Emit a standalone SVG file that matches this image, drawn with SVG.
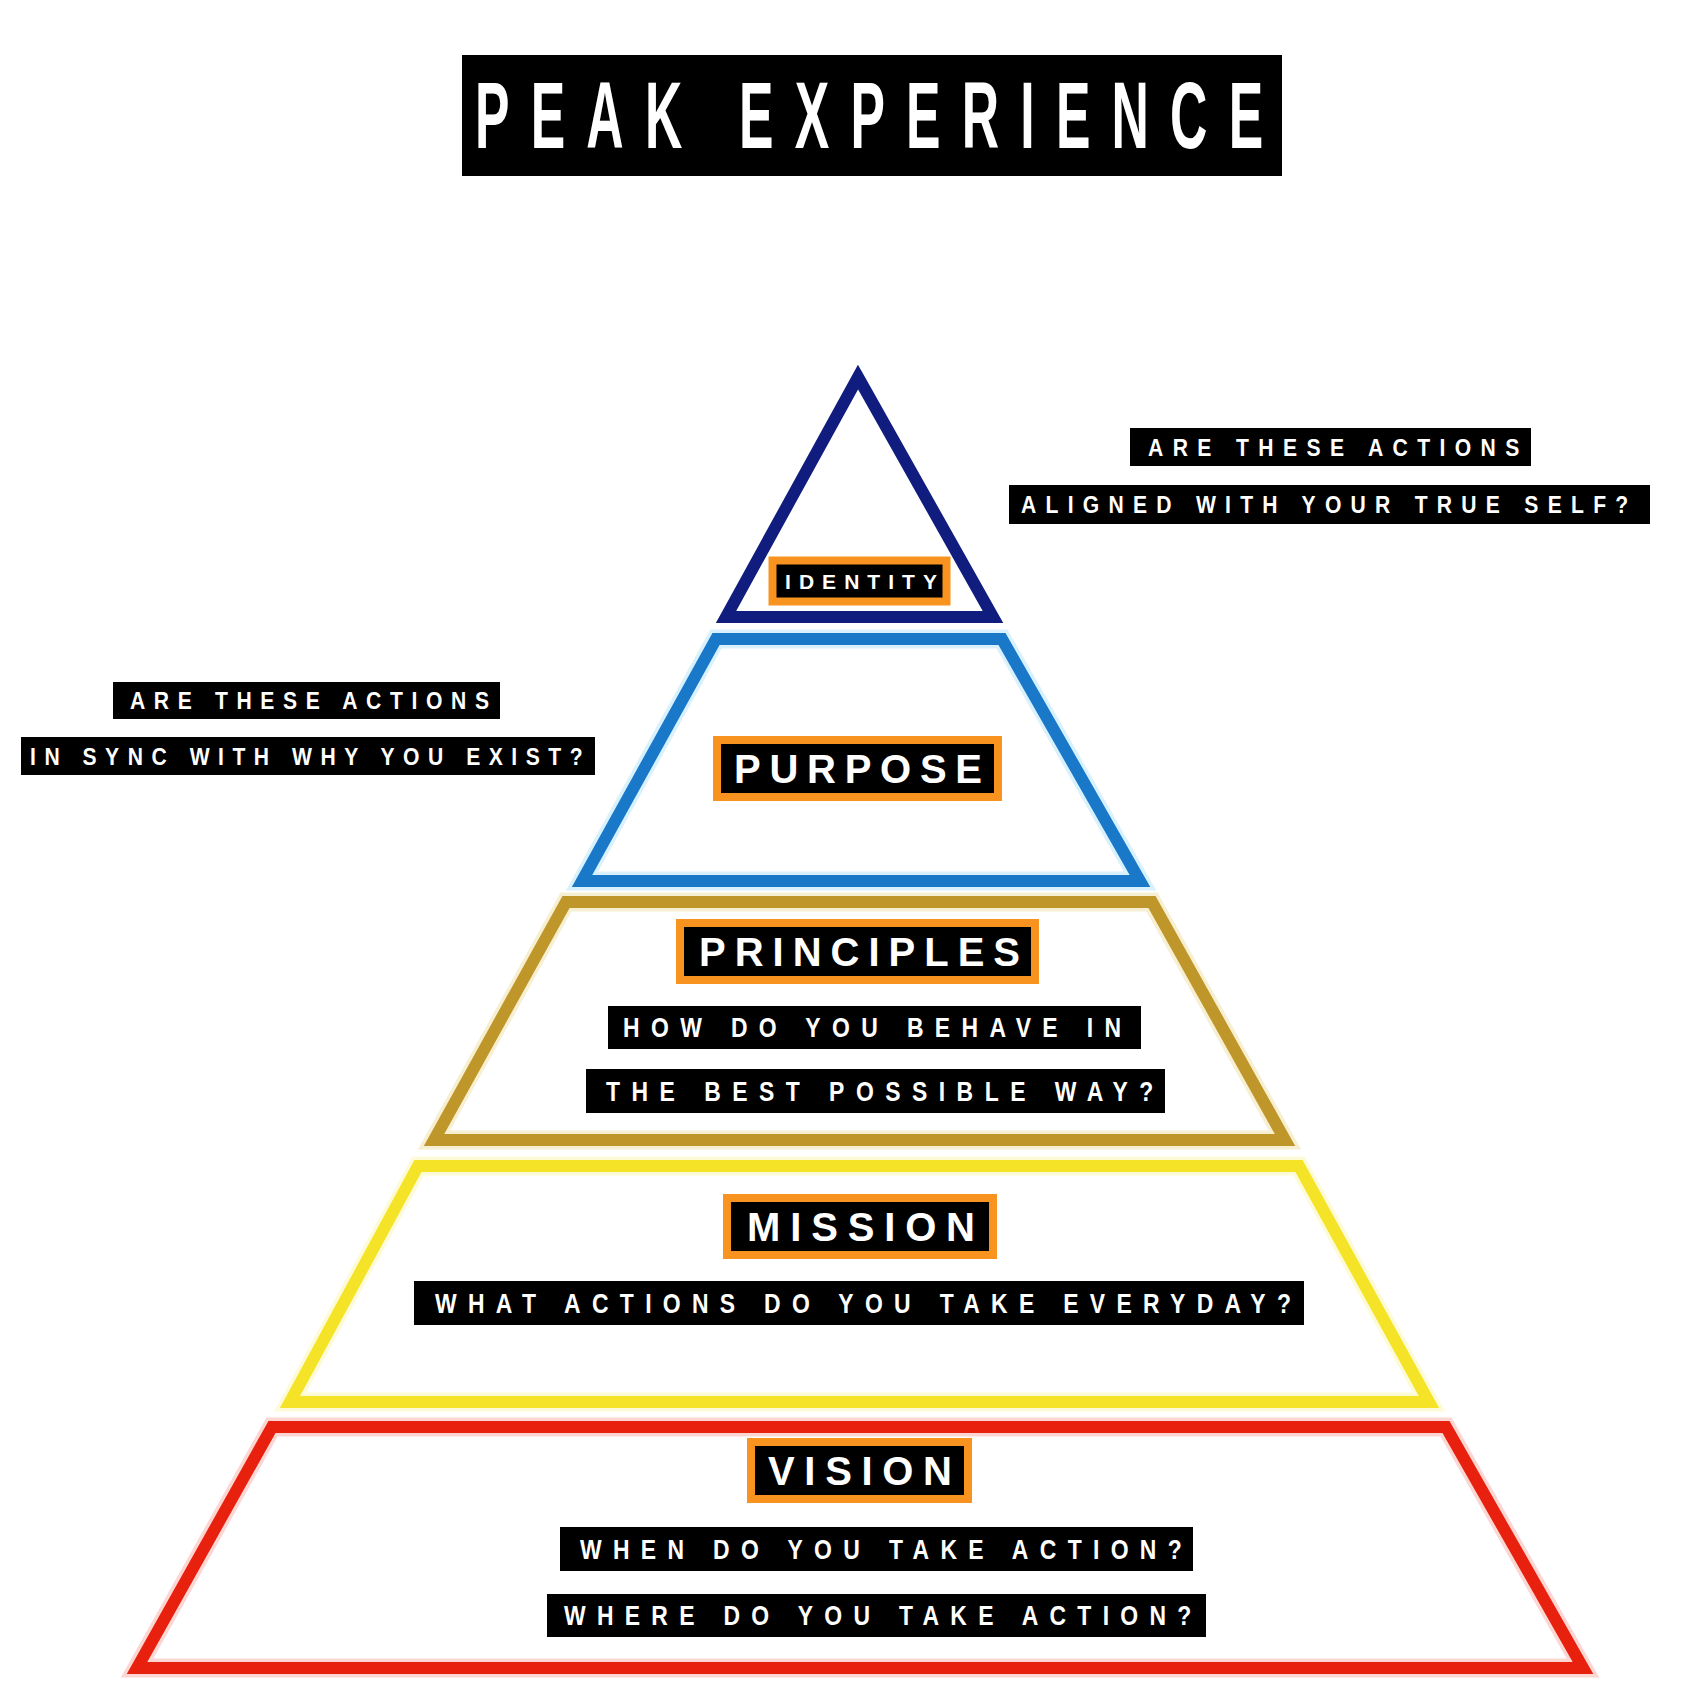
<svg xmlns="http://www.w3.org/2000/svg" width="1693" height="1693" viewBox="0 0 1693 1693">
<style>
.tier{fill:none;stroke-width:12;stroke-linejoin:miter}
.glow{fill:none;stroke-width:19;stroke-linejoin:miter;opacity:0.35}
.tag{fill:#000;stroke:#f7931e;stroke-width:8}
.bar{fill:#000}
.big{font-family:"Liberation Sans",Arial,sans-serif;font-weight:bold;font-size:40px;fill:#fff}
.q{font-family:"Liberation Sans",Arial,sans-serif;font-weight:bold;font-size:27px;fill:#fff}
.a{font-family:"Liberation Sans",Arial,sans-serif;font-weight:bold;font-size:24px;fill:#fff}
</style>
<rect width="1693" height="1693" fill="#fff"/>
<g id="title">
<rect x="462" y="55" width="820" height="121" fill="#000"/>
<text transform="translate(475,148) scale(0.55,1)" x="0" y="0" font-family="Liberation Sans, Arial, sans-serif" font-weight="bold" font-size="94" fill="#fff" textLength="1433" lengthAdjust="spacing">PEAK EXPERIENCE</text>
</g>
<g id="tier-vision">
<polygon class="glow" points="272,1427 1446,1427 1583,1668 137,1668" stroke="#f58a80"/>
<polygon class="tier" points="272,1427 1446,1427 1583,1668 137,1668" stroke="#e8200e"/>
<rect class="tag" x="751" y="1442" width="217" height="57"/>
<text class="big" x="768" y="1485" textLength="184" lengthAdjust="spacing">VISION</text>
<rect class="bar" x="560" y="1527" width="633" height="44"/>
<text class="q" transform="translate(580,1558.5) scale(0.85,1)" textLength="708" lengthAdjust="spacing">WHEN DO YOU TAKE ACTION?</text>
<rect class="bar" x="547" y="1594" width="659" height="43"/>
<text class="q" transform="translate(564,1625) scale(0.85,1)" textLength="738" lengthAdjust="spacing">WHERE DO YOU TAKE ACTION?</text>
</g>
<g id="tier-mission">
<polygon class="glow" points="418,1166 1299,1166 1429,1402 290,1402" stroke="#f8f08a"/>
<polygon class="tier" points="418,1166 1299,1166 1429,1402 290,1402" stroke="#f4e327"/>
<rect class="tag" x="727" y="1198" width="266" height="57"/>
<text class="big" x="747" y="1241" textLength="228" lengthAdjust="spacing">MISSION</text>
<rect class="bar" x="414" y="1281" width="890" height="44"/>
<text class="q" transform="translate(435,1312.5) scale(0.85,1)" textLength="1007" lengthAdjust="spacing">WHAT ACTIONS DO YOU TAKE EVERYDAY?</text>
</g>
<g id="tier-principles">
<polygon class="glow" points="566,902 1152,902 1285,1140 434,1140" stroke="#e8d27a"/>
<polygon class="tier" points="566,902 1152,902 1285,1140 434,1140" stroke="#bf962a"/>
<rect class="tag" x="680" y="923" width="355" height="57"/>
<text class="big" x="699" y="966" textLength="321" lengthAdjust="spacing">PRINCIPLES</text>
<rect class="bar" x="608" y="1006" width="533" height="43"/>
<text class="q" transform="translate(623,1037) scale(0.85,1)" textLength="586" lengthAdjust="spacing">HOW DO YOU BEHAVE IN</text>
<rect class="bar" x="586" y="1069" width="579" height="44"/>
<text class="q" transform="translate(606,1100.5) scale(0.85,1)" textLength="644" lengthAdjust="spacing">THE BEST POSSIBLE WAY?</text>
</g>
<g id="tier-purpose">
<polygon class="glow" points="716,639 1002,639 1140,881 582,881" stroke="#8fd6f5"/>
<polygon class="tier" points="716,639 1002,639 1140,881 582,881" stroke="#1a78c9"/>
<rect class="tag" x="717" y="740" width="281" height="57"/>
<text class="big" x="734" y="783" textLength="248" lengthAdjust="spacing">PURPOSE</text>
</g>
<g id="tier-identity">
<polygon class="tier" points="858,377 993,617 726,617" stroke="#101d7e" stroke-width="11"/>
<rect class="tag" x="772.5" y="560.5" width="174" height="41" stroke-width="7"/>
<text class="big" x="785" y="588.5" textLength="152" lengthAdjust="spacing" style="font-size:21px">IDENTITY</text>
</g>
<g id="note-identity">
<rect class="bar" x="1130" y="428" width="401" height="38"/>
<text class="a" transform="translate(1148,455.5) scale(0.88,1)" textLength="422" lengthAdjust="spacing">ARE THESE ACTIONS</text>
<rect class="bar" x="1009" y="485" width="641" height="39"/>
<text class="a" transform="translate(1021,513) scale(0.88,1)" textLength="690" lengthAdjust="spacing">ALIGNED WITH YOUR TRUE SELF?</text>
</g>
<g id="note-purpose">
<rect class="bar" x="113" y="682" width="387" height="37"/>
<text class="a" transform="translate(130,709) scale(0.88,1)" textLength="408" lengthAdjust="spacing">ARE THESE ACTIONS</text>
<rect class="bar" x="21" y="737" width="574" height="38"/>
<text class="a" transform="translate(30,764.5) scale(0.88,1)" textLength="628" lengthAdjust="spacing">IN SYNC WITH WHY YOU EXIST?</text>
</g>
</svg>
